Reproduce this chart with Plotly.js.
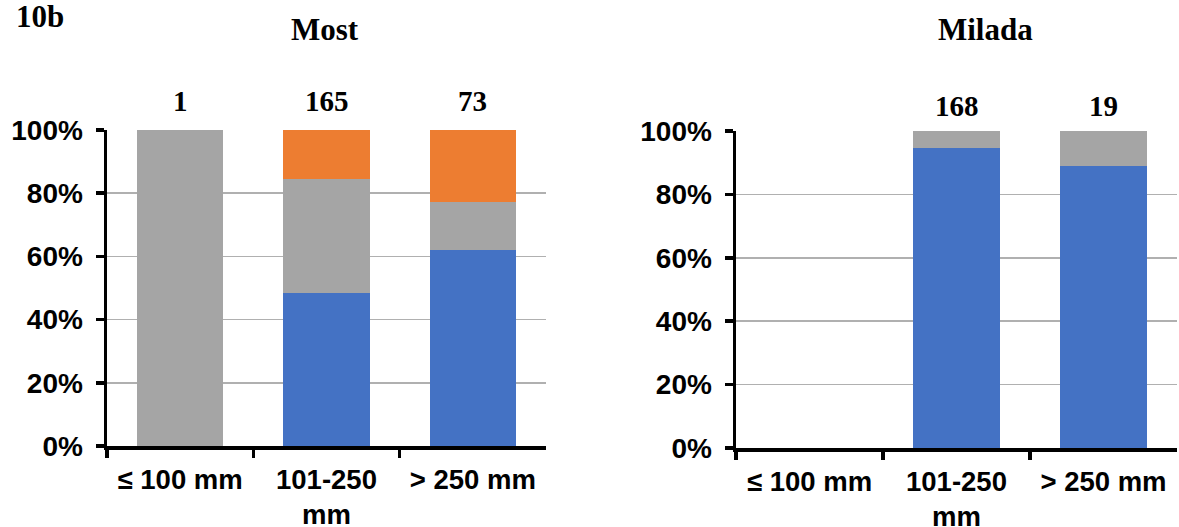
<!DOCTYPE html>
<html>
<head>
<meta charset="utf-8">
<script src="https://cdn.plot.ly/plotly-3.0.1.min.js"></script>
<style>html,body{margin:0;padding:0;background:#fff}#chart{width:1179px;height:527px}</style>
</head>
<body>
<div id="chart"></div>
<script>
// Data
var categories = ['≤ 100 mm', '101-250 mm', '> 250 mm'];
var tickLabels = ['≤ 100 mm', '101-250<br>mm', '> 250 mm'];
var panelTitles = ['Most', 'Milada'];
var figureLabel = '10b';

var mostBlue   = [0, 48.3, 61.9];
var mostGray   = [100, 36.1, 15.2];
var mostOrange = [0, 15.6, 22.9];
var mostCounts = ['1', '165', '73'];

var miladaBlue   = [null, 94.6, 89.0];
var miladaGray   = [null, 5.4, 11.0];
var miladaOrange = [null, 0, 0];
var miladaCounts = ['', '168', '19'];

var BLUE = '#4472C4', GRAY = '#A5A5A5', ORANGE = '#ED7D31';

function bar(y, color, xa, ya) {
  return {type: 'bar', x: categories, y: y, xaxis: xa, yaxis: ya,
    marker: {color: color, line: {width: 0}}, showlegend: false, hoverinfo: 'skip'};
}

var traces = [
  bar(mostBlue, BLUE, 'x', 'y'),
  bar(mostGray, GRAY, 'x', 'y'),
  bar(mostOrange, ORANGE, 'x', 'y'),
  bar(miladaBlue, BLUE, 'x2', 'y2'),
  bar(miladaGray, GRAY, 'x2', 'y2'),
  bar(miladaOrange, ORANGE, 'x2', 'y2')
];

var sansFont = {family: 'Liberation Sans, Arial, sans-serif', size: 28, color: '#000', weight: 'bold'};
var xTickFont = {family: 'Liberation Sans, Arial, sans-serif', size: 27.5, color: '#000', weight: 'bold'};
var titleFont = {family: 'Liberation Serif, Times New Roman, serif', size: 31, color: '#000', weight: 'bold'};
var countFont = {family: 'Liberation Serif, Times New Roman, serif', size: 29, color: '#000', weight: 'bold'};

function xAxis(domain, anchor) {
  return {domain: domain, anchor: anchor, type: 'category', categoryorder: 'array', categoryarray: categories,
    tickvals: categories, ticktext: tickLabels, tickangle: 0,
    showline: true, linecolor: '#000', linewidth: 3.5, ticks: 'outside', tickson: 'boundaries',
    ticklen: 8, tickwidth: 3.5, tickcolor: '#000', showgrid: false, zeroline: false,
    tickfont: xTickFont, ticklabelstandoff: 6, fixedrange: true};
}
function yAxis(domain, anchor) {
  return {domain: domain, anchor: anchor, range: [0, 100], dtick: 20, ticksuffix: '%',
    showline: true, linecolor: '#000', linewidth: 3.5, ticks: 'outside', ticklen: 8, tickwidth: 3.5,
    tickcolor: '#000', showgrid: true, gridcolor: '#B0B0B0', gridwidth: 1.5, zeroline: false,
    tickfont: sansFont, ticklabelstandoff: 7, fixedrange: true};
}

var annotations = [];
annotations.push({xref: 'paper', yref: 'paper', x: 14/1179, y: 1 - 17/527, xanchor: 'left', yanchor: 'middle',
  text: figureLabel, showarrow: false, font: titleFont});
annotations.push({xref: 'paper', yref: 'paper', x: 325/1179, y: 1 - 30/527, xanchor: 'center', yanchor: 'middle',
  text: panelTitles[0], showarrow: false, font: titleFont});
annotations.push({xref: 'paper', yref: 'paper', x: 985/1179, y: 1 - 29/527, xanchor: 'center', yanchor: 'middle',
  text: panelTitles[1], showarrow: false, font: titleFont});
categories.forEach(function (c, i) {
  if (mostCounts[i]) annotations.push({xref: 'x', yref: 'y', x: c, y: 100, yshift: 29, yanchor: 'middle',
    text: mostCounts[i], showarrow: false, font: countFont});
  if (miladaCounts[i]) annotations.push({xref: 'x2', yref: 'y2', x: c, y: 100, yshift: 25, yanchor: 'middle',
    text: miladaCounts[i], showarrow: false, font: countFont});
});

var layout = {
  width: 1179, height: 527,
  margin: {l: 0, r: 0, t: 0, b: 0},
  paper_bgcolor: '#fff', plot_bgcolor: '#fff',
  barmode: 'stack', bargap: 0.41,
  showlegend: false,
  xaxis: xAxis([107/1179, 546/1179], 'y'),
  yaxis: yAxis([81/527, 397/527], 'x'),
  xaxis2: xAxis([736/1179, 1177/1179], 'y2'),
  yaxis2: yAxis([79/527, 396/527], 'x2'),
  annotations: annotations
};

Plotly.newPlot('chart', traces, layout, {displayModeBar: false, staticPlot: true});
</script>
</body>
</html>
